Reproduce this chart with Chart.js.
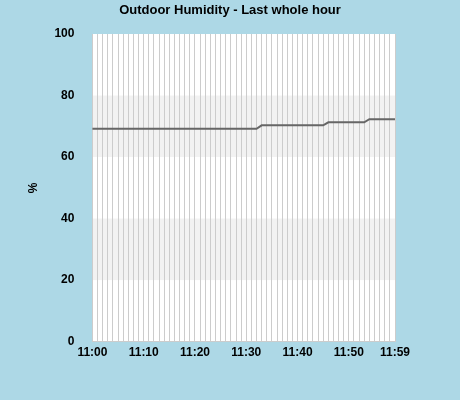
<!DOCTYPE html>
<html>
<head>
<script src="https://cdn.jsdelivr.net/npm/chart.js"></script>
<style>
  body { margin: 0; background: #add8e6; }
  #wrap { position: relative; width: 460px; height: 400px; }
  #title { position: absolute; top: 2px; left: 0; width: 460px; text-align: center;
           font: bold 13px Arial, 'Liberation Sans', sans-serif; color: #000; }
</style>
</head>
<body>
<div id="wrap">
  <div id="title">Outdoor Humidity - Last whole hour</div>
  <canvas id="c" width="460" height="400"></canvas>
</div>
<script>
// minute labels 11:00 .. 11:59
const minutes = [];
for (let m = 0; m < 60; m++) minutes.push('11:' + String(m).padStart(2, '0'));
const shownLabels = ['11:00', '11:10', '11:20', '11:30', '11:40', '11:50', '11:59'];

// humidity per minute
const humidity = [
  69.2, 69.2, 69.2, 69.2, 69.2, 69.2, 69.2, 69.2, 69.2, 69.2,
  69.2, 69.2, 69.2, 69.2, 69.2, 69.2, 69.2, 69.2, 69.2, 69.2,
  69.2, 69.2, 69.2, 69.2, 69.2, 69.2, 69.2, 69.2, 69.2, 69.2,
  69.2, 69.2, 69.2, 70.3, 70.3, 70.3, 70.3, 70.3, 70.3, 70.3,
  70.3, 70.3, 70.3, 70.3, 70.3, 70.3, 71.3, 71.3, 71.3, 71.3,
  71.3, 71.3, 71.3, 71.3, 72.3, 72.3, 72.3, 72.3, 72.3, 72.3
];
const bands = [[20, 40], [60, 80]];

// grey stripes behind the data
const bandPlugin = {
  id: 'bands',
  beforeDraw(chart) {
    const { ctx, chartArea: a, scales: { y } } = chart;
    ctx.save();
    ctx.fillStyle = '#fff';
    ctx.fillRect(a.left, a.top, a.right - a.left, a.bottom - a.top);
    ctx.fillStyle = '#f2f2f2';
    bands.forEach(b => {
      const top = y.getPixelForValue(b[1]);
      const bot = y.getPixelForValue(b[0]);
      ctx.fillRect(a.left, top, a.right - a.left, bot - top);
    });
    ctx.restore();
  }
};

new Chart(document.getElementById('c'), {
  type: 'line',
  data: {
    labels: minutes,
    datasets: [{
      data: humidity,
      borderColor: '#666',
      borderWidth: 2,
      pointRadius: 0,
      tension: 0
    }]
  },
  options: {
    responsive: false,
    animation: false,
    layout: { padding: { top: 34, right: 65, left: 22, bottom: 36 } },
    plugins: {
      legend: { display: false },
      tooltip: { enabled: false }
    },
    scales: {
      x: {
        offset: false,
        grid: { color: '#ccc', drawTicks: false },
        border: { color: '#ccc' },
        ticks: {
          autoSkip: false,
          maxRotation: 0,
          color: '#000',
          padding: 4,
          font: { family: 'Arial, Liberation Sans', size: 12, weight: 'bold' },
          callback: function(v) {
            const l = this.getLabelForValue(v);
            return shownLabels.includes(l) ? l : '';
          }
        }
      },
      y: {
        min: 0,
        max: 100,
        grid: { display: false },
        border: { color: '#ccc' },
        ticks: {
          stepSize: 20,
          color: '#000',
          padding: 10,
          font: { family: 'Arial, Liberation Sans', size: 12, weight: 'bold' }
        },
        title: {
          display: true,
          text: '%',
          color: '#000',
          font: { family: 'Arial, Liberation Sans', size: 12, weight: 'bold' }
        }
      }
    }
  },
  plugins: [bandPlugin]
});
</script>
</body>
</html>
